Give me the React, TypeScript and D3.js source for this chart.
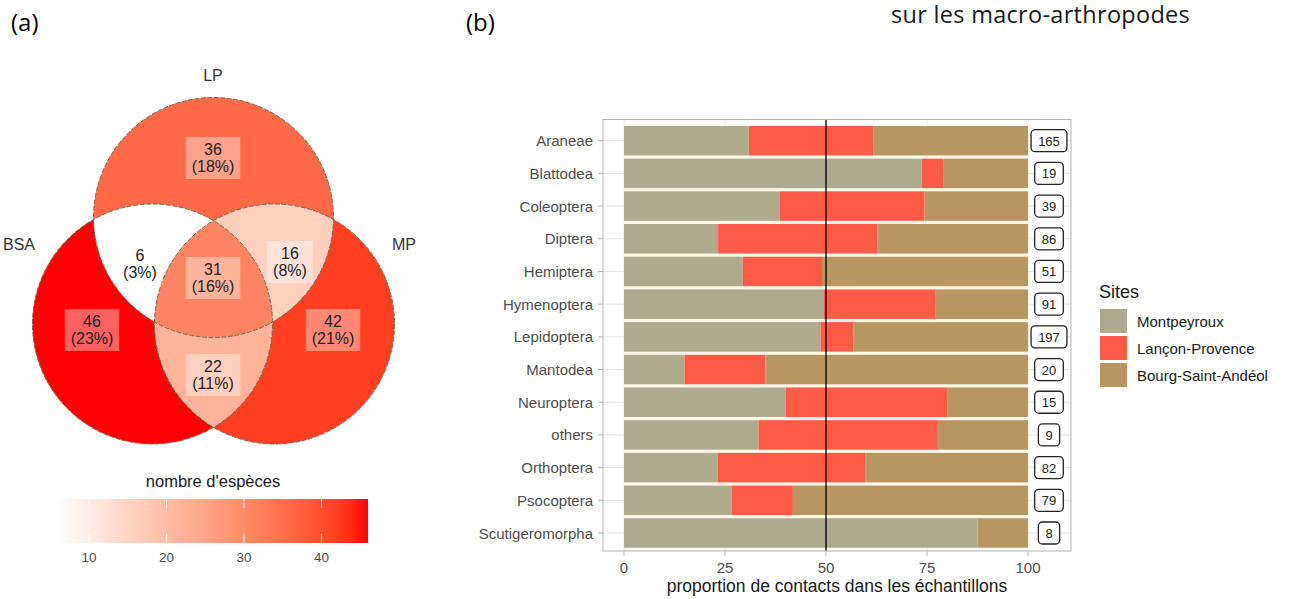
import React from "react";
import * as d3 from "d3";

// ---------- data ----------
const categories = ["Araneae", "Blattodea", "Coleoptera", "Diptera", "Hemiptera", "Hymenoptera", "Lepidoptera", "Mantodea", "Neuroptera", "others", "Orthoptera", "Psocoptera", "Scutigeromorpha"];
const montpeyroux = [30.9, 73.7, 38.5, 23.3, 29.4, 49.5, 48.7, 15.0, 40.0, 33.3, 23.2, 26.6, 87.5];
const lancon = [30.9, 5.3, 35.9, 39.5, 19.6, 27.5, 8.1, 20.0, 40.0, 44.4, 36.6, 15.2, 0];
const bourg = [38.2, 21.0, 25.6, 37.2, 51.0, 23.0, 43.2, 65.0, 20.0, 22.3, 40.2, 58.2, 12.5];
const totals = [165, 19, 39, 86, 51, 91, 197, 20, 15, 9, 82, 79, 8];
const siteNames = ["Montpeyroux", "Lançon-Provence", "Bourg-Saint-Andéol"];
const siteColors = ["#aeaa8d", "#fe5a48", "#b7965f"];
const xTicks = [0, 25, 50, 75, 100];

const vennSetNames = ["BSA", "LP", "MP"];
const vennRegionIds = ["LP", "BSA&LP", "LP&MP", "BSA&LP&MP", "BSA", "MP", "BSA&MP"];
const vennCounts = [36, 6, 16, 31, 46, 42, 22];
const vennPercents = [18, 3, 8, 16, 23, 21, 11];
const legendTicks = [10, 20, 30, 40];

// ---------- layout ----------
const FONT = "'Liberation Sans', Arial, sans-serif";
const HEAD_FONT = "'Open Sans', 'Noto Sans', sans-serif";
const R = 120;
const circlePos: Record<string, [number, number]> = {
  BSA: [152.5, 324],
  LP: [213.5, 217.5],
  MP: [274.5, 324],
};
const setLabelPos: Record<string, [number, number]> = {
  BSA: [19, 244],
  LP: [213, 75],
  MP: [404, 244],
};
const regionLabelPos: Record<string, [number, number]> = {
  LP: [213, 158],
  "BSA&LP": [140, 264],
  "LP&MP": [290, 262],
  "BSA&LP&MP": [213, 278],
  BSA: [92, 330],
  MP: [333, 330],
  "BSA&MP": [213, 375],
};

const countMin = d3.min(vennCounts) as number;
const countMax = d3.max(vennCounts) as number;
const fillScale = d3
  .scaleSequential(d3.interpolateLab("#ffffff", "#ff0000"))
  .domain([countMin, countMax]);

function Venn() {
  const legendX = d3.scaleLinear().domain([countMin, countMax]).range([58, 368]);
  const barTop = 499;
  const barH = 44;
  const stops = d3.range(0, 1.0001, 0.05);
  return (
    <g>
      <defs>
        {vennSetNames.map((s) => (
          <clipPath id={`clip-${s}`} key={s}>
            <circle cx={circlePos[s][0]} cy={circlePos[s][1]} r={R} />
          </clipPath>
        ))}
        {vennRegionIds.map((id) => {
          const inc = id.split("&");
          const exc = vennSetNames.filter((s) => !inc.includes(s));
          return (
            <mask id={`mask-${id.replace(/&/g, "_")}`} key={id} maskUnits="userSpaceOnUse" x={0} y={0} width={440} height={470}>
              <rect x={0} y={0} width={440} height={470} fill="white" />
              {exc.map((s) => (
                <circle key={s} cx={circlePos[s][0]} cy={circlePos[s][1]} r={R} fill="black" />
              ))}
            </mask>
          );
        })}
        <linearGradient id="cbar" x1="0" x2="1" y1="0" y2="0">
          {stops.map((t) => (
            <stop key={t} offset={`${t * 100}%`} stopColor={fillScale(countMin + t * (countMax - countMin))} />
          ))}
        </linearGradient>
      </defs>

      {vennRegionIds.map((id, i) => {
        const inc = id.split("&");
        const first = inc[0];
        let node: any = (
          <circle
            cx={circlePos[first][0]}
            cy={circlePos[first][1]}
            r={R}
            fill={fillScale(vennCounts[i])}
            mask={`url(#mask-${id.replace(/&/g, "_")})`}
          />
        );
        for (let k = 1; k < inc.length; k++) {
          node = <g clipPath={`url(#clip-${inc[k]})`}>{node}</g>;
        }
        return <g key={id}>{node}</g>;
      })}

      {vennSetNames.map((s) => (
        <circle key={s} cx={circlePos[s][0]} cy={circlePos[s][1]} r={R} fill="none" stroke="#6e6a52" strokeWidth={1} strokeDasharray="5,1.5" />
      ))}

      {vennRegionIds.map((id, i) => {
        const [x, y] = regionLabelPos[id];
        const l2 = `(${vennPercents[i]}%)`;
        const w = l2.length * 8.9 + 10;
        return (
          <g key={id}>
            <rect x={x - w / 2} y={y - 21} width={w} height={42} fill="#ffffff" fillOpacity={0.38} />
            <text x={x} y={y - 8.5} textAnchor="middle" dominantBaseline="central" fontSize={16} fontFamily={FONT} fill="#222">
              {vennCounts[i]}
            </text>
            <text x={x} y={y + 8.5} textAnchor="middle" dominantBaseline="central" fontSize={16} fontFamily={FONT} fill="#222">
              {l2}
            </text>
          </g>
        );
      })}

      {vennSetNames.map((s) => (
        <text key={s} x={setLabelPos[s][0]} y={setLabelPos[s][1]} textAnchor="middle" dominantBaseline="central" fontSize={16} fontFamily={FONT} fill="#333">
          {s}
        </text>
      ))}

      {/* colour legend */}
      <text x={213} y={487} textAnchor="middle" fontSize={16.5} fontFamily={FONT} fill="#1a1a1a">
        nombre d'espèces
      </text>
      <rect x={legendX(countMin)} y={barTop} width={legendX(countMax) - legendX(countMin)} height={barH} fill="url(#cbar)" />
      {legendTicks.map((t) => (
        <g key={t}>
          <line x1={legendX(t)} x2={legendX(t)} y1={barTop} y2={barTop + 9} stroke="#fff" strokeWidth={1} />
          <line x1={legendX(t)} x2={legendX(t)} y1={barTop + barH - 9} y2={barTop + barH} stroke="#fff" strokeWidth={1} />
          <text x={legendX(t)} y={557} textAnchor="middle" dominantBaseline="central" fontSize={13.5} fontFamily={FONT} fill="#4d4d4d">
            {t}
          </text>
        </g>
      ))}
    </g>
  );
}

function Bars() {
  const panel = { left: 603, right: 1071, top: 119.5, bottom: 551 };
  const x = d3.scaleLinear().domain([0, 100]).range([624, 1028]);
  const yc = d3.scalePoint<string>().domain(categories).range([140.7, 533]);
  const step = yc.step();
  const bh = step - 3.2;
  const rows = categories.map((c, i) => ({
    cat: c,
    [siteNames[0]]: montpeyroux[i],
    [siteNames[1]]: lancon[i],
    [siteNames[2]]: bourg[i],
  }));
  const stacked = d3.stack<any>().keys(siteNames)(rows);
  const boxX = 1049;
  return (
    <g fontFamily={FONT}>
      <rect x={panel.left} y={panel.top} width={panel.right - panel.left} height={panel.bottom - panel.top} fill="#fff" />
      {xTicks.map((t) => (
        <line key={t} x1={x(t)} x2={x(t)} y1={panel.top} y2={panel.bottom} stroke="#ebebeb" strokeWidth={1} />
      ))}
      {categories.map((c) => (
        <line key={c} x1={panel.left} x2={panel.right} y1={yc(c)} y2={yc(c)} stroke="#e3e3e3" strokeWidth={1} />
      ))}
      <rect
        x={x(0)}
        y={(yc(categories[0]) as number) - bh / 2}
        width={x(100) - x(0)}
        height={(yc(categories[categories.length - 1]) as number) - (yc(categories[0]) as number) + bh}
        fill="#fff8e6"
      />
      {stacked.map((layer, li) => (
        <g key={layer.key} fill={siteColors[li]}>
          {layer.map((d, i) => (
            <rect key={i} x={x(d[0])} y={(yc(categories[i]) as number) - bh / 2} width={Math.max(0, x(d[1]) - x(d[0]))} height={bh} />
          ))}
        </g>
      ))}
      <line x1={x(50)} x2={x(50)} y1={panel.top} y2={panel.bottom} stroke="#000" strokeWidth={1.3} />
      {categories.map((c, i) => {
        const label = String(totals[i]);
        const w = label.length * 7.3 + 14;
        const cy = yc(c) as number;
        return (
          <g key={c}>
            <rect x={boxX - w / 2} y={cy - 11} width={w} height={22} rx={4} ry={4} fill="#fff" stroke="#222" strokeWidth={1.3} />
            <text x={boxX} y={cy + 0.5} textAnchor="middle" dominantBaseline="central" fontSize={13} fill="#222">
              {label}
            </text>
          </g>
        );
      })}
      <rect x={panel.left} y={panel.top} width={panel.right - panel.left} height={panel.bottom - panel.top} fill="none" stroke="#b3b3b3" strokeWidth={1} />
      {categories.map((c) => (
        <g key={c}>
          <line x1={panel.left - 5} x2={panel.left} y1={yc(c)} y2={yc(c)} stroke="#b3b3b3" />
          <text x={593} y={yc(c)} textAnchor="end" dominantBaseline="central" fontSize={15} fill="#4d4d4d">
            {c}
          </text>
        </g>
      ))}
      {xTicks.map((t) => (
        <g key={t}>
          <line x1={x(t)} x2={x(t)} y1={panel.bottom} y2={panel.bottom + 5} stroke="#b3b3b3" />
          <text x={x(t)} y={567} textAnchor="middle" dominantBaseline="central" fontSize={15} fill="#4d4d4d">
            {t}
          </text>
        </g>
      ))}
      <text x={(panel.left + panel.right) / 2} y={592} textAnchor="middle" fontSize={17.5} fill="#1a1a1a">
        proportion de contacts dans les échantillons
      </text>

      {/* legend */}
      <text x={1099} y={298} fontSize={18} fill="#1a1a1a">
        Sites
      </text>
      {siteNames.map((s, i) => (
        <g key={s}>
          <rect x={1100} y={309 + i * 27} width={27} height={24} fill={siteColors[i]} />
          <text x={1137} y={321 + i * 27} dominantBaseline="central" fontSize={15} fill="#1a1a1a">
            {s}
          </text>
        </g>
      ))}
    </g>
  );
}

export default function App() {
  return (
    <svg
      width={1290}
      height={599}
      viewBox="0 0 1290 599"
      style={{ position: "absolute", left: 0, top: 0, background: "#fff" }}
    >
      <rect width={1290} height={599} fill="#fff" />
      <text x={11} y={31} fontSize={24} fontFamily={HEAD_FONT} fill="#000">(a)</text>
      <text x={466} y={31} fontSize={24} fontFamily={HEAD_FONT} fill="#000">(b)</text>
      <text x={891} y={23} fontSize={23.5} fontFamily={HEAD_FONT} fill="#1a1a1a" letterSpacing={0.3}>
        sur les macro-arthropodes
      </text>
      <Venn />
      <Bars />
    </svg>
  );
}
